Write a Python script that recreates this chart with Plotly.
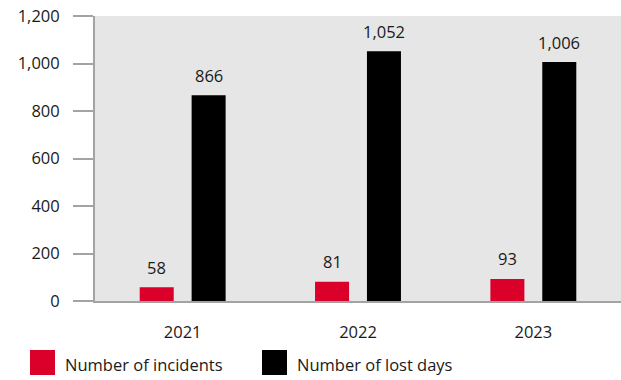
import plotly.graph_objects as go

# Occupational safety figures by year
years = ["2021", "2022", "2023"]
incidents = [58, 81, 93]
lost_days = [866, 1052, 1006]

series_names = ["Number of incidents", "Number of lost days"]
series_values = [incidents, lost_days]
series_colors = ["#DA0029", "#000000"]

y_tickvals = [0, 200, 400, 600, 800, 1000, 1200]
y_ticktext = ["0", "200", "400", "600", "800", "1,000", "1,200"]

FONT = "'Open Sans', Lato, sans-serif"
FSIZE = 16.5
TEXT_COLOR = "#1a1a1a"
AXIS_GREY = "#a3a3a3"

BAR_W = 0.194
OFFSETS = [-0.148, 0.148]  # bar centres relative to the year

fig = go.Figure()
for name, vals, color, off in zip(series_names, series_values, series_colors, OFFSETS):
    fig.add_trace(go.Bar(
        x=years, y=vals, name=name,
        marker=dict(color=color, line=dict(width=0)),
        width=BAR_W, offset=off - BAR_W / 2,
        showlegend=False,
    ))

# value labels above each bar
annotations = []
for vals, off in zip(series_values, OFFSETS):
    for i, v in enumerate(vals):
        annotations.append(dict(
            x=i + off, y=v, xref="x", yref="y",
            text=f"{v:,}", showarrow=False,
            yanchor="middle", yshift=20,
            font=dict(family=FONT, size=FSIZE, color=TEXT_COLOR),
        ))

# legend drawn below the plot with large square swatches
shapes = []
legend_x = [30, 262]  # pixel positions of the swatches
L, T, PW, PH = 95, 16, 526, 285
for name, color, px in zip(series_names, series_colors, legend_x):
    x0 = (px - L) / PW
    x1 = (px + 25 - L) / PW
    y0 = (T + PH - 350) / PH
    y1 = (T + PH - 375) / PH
    shapes.append(dict(type="rect", xref="paper", yref="paper",
                       x0=x0, x1=x1, y0=y1, y1=y0,
                       fillcolor=color, line=dict(width=0)))
    annotations.append(dict(
        x=(px + 33 - L) / PW, y=(T + PH - 364) / PH,
        xref="paper", yref="paper", xanchor="left", yanchor="middle",
        text=name, showarrow=False,
        font=dict(family=FONT, size=FSIZE, color=TEXT_COLOR),
    ))

fig.update_layout(
    width=621, height=380,
    margin=dict(l=L, r=0, t=T, b=380 - T - PH),
    paper_bgcolor="white",
    plot_bgcolor="#E6E6E6",
    barmode="overlay",
    showlegend=False,
    annotations=annotations,
    shapes=shapes,
    font=dict(family=FONT, size=FSIZE, color=TEXT_COLOR),
    xaxis=dict(
        type="category", range=[-0.5, 2.5],
        showline=True, linecolor=AXIS_GREY, linewidth=2,
        showgrid=False, zeroline=False, ticks="",
        ticklabelstandoff=15,
        tickfont=dict(family=FONT, size=FSIZE, color=TEXT_COLOR),
    ),
    yaxis=dict(
        range=[0, 1200],
        tickvals=y_tickvals, ticktext=y_ticktext,
        showline=True, linecolor=AXIS_GREY, linewidth=2,
        ticks="outside", ticklen=20, tickwidth=2, tickcolor=AXIS_GREY,
        ticklabelstandoff=10,
        showgrid=False, zeroline=False,
        tickfont=dict(family=FONT, size=FSIZE, color=TEXT_COLOR),
    ),
)

fig.write_html("out.html")
